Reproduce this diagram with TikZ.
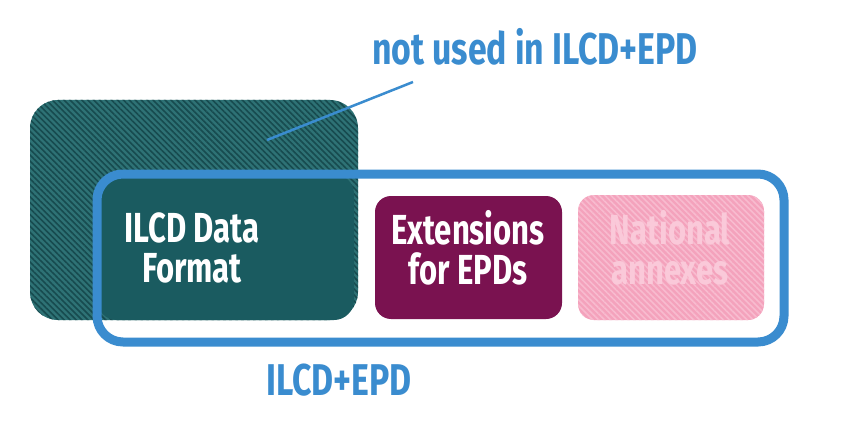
\documentclass[tikz,border=0pt]{standalone}
\usepackage{fontspec}
\newfontfamily\dinfont{Fira Sans}[FakeStretch=0.74]
\newfontfamily\dinwide{Fira Sans}[FakeStretch=0.76]
\usetikzlibrary{patterns.meta}
\definecolor{frameblue}{HTML}{3A8CCF}
\definecolor{tealdark}{HTML}{1A5B60}
\definecolor{tealhatchbg}{HTML}{2E7275}
\definecolor{tealhatchfg}{HTML}{174B4F}
\definecolor{plum}{HTML}{7A1250}
\definecolor{pinkbg}{HTML}{F4A2BC}
\definecolor{pinkfg}{HTML}{F8BBCF}
\definecolor{pinktext}{HTML}{FAC9D9}
\begin{document}
\begin{tikzpicture}[x=1pt,y=-1pt,
  boxbase/.style={draw=none, inner sep=0pt, outer sep=0pt},
  boxtxt/.style={font=\dinfont\bfseries\fontsize{42}{40}\selectfont, align=center, inner sep=0pt},
  bluetxt/.style={font=\dinwide\bfseries\fontsize{44.5}{44}\selectfont, text=frameblue, inner sep=0pt},
]
\useasboundingbox (0,0) rectangle (844,428);
\fill[white] (0,0) rectangle (844,428);
% box not used in ILCD+EPD
\node[boxbase, minimum width=328pt, minimum height=220pt, rounded corners=28pt,
  fill=tealhatchbg, postaction={pattern={Lines[angle=-45,distance=4.2pt,line width=1.6pt]}, pattern color=tealhatchfg}]
  (unused) at (194,210) {};
\node[boxbase, fill=tealdark, minimum width=257pt, minimum height=146pt, rounded corners=20pt]
  (ilcd) at (225.5,247) {};
% leader line
\coordinate (leadA) at (267,140);
\coordinate (leadB) at (413,82);
\draw[frameblue, line width=2.5pt] (leadA) -- (leadB);
% extension boxes
\node[boxbase, fill=plum, minimum width=187pt, minimum height=123pt, rounded corners=16pt]
  (ext) at (468.5,257.5) {};
\node[boxbase, minimum width=186pt, minimum height=125pt, rounded corners=16pt,
  fill=pinkbg, postaction={pattern={Lines[angle=-45,distance=4.2pt,line width=1.6pt]}, pattern color=pinkfg}]
  (nat) at (671,257.5) {};
% ILCD+EPD frame
\node[draw=frameblue, line width=9pt, inner sep=0pt, outer sep=0pt, minimum width=687pt, minimum height=168pt, rounded corners=26pt]
  (epd) at (440.5,258) {};
% texts
\node[boxtxt, text=white] (ilcdtxt) at (192,248) {ILCD Data\\Format};
\node[boxtxt, text=white] (exttxt) at (468,248) {Extensions\\for EPDs};
\node[boxtxt, text=pinktext] (nattxt) at (670,248) {National\\annexes};
\node[bluetxt, anchor=base] (unusedlbl) at (535,65) {not used in ILCD+EPD};
\node[bluetxt, anchor=base] (epdlbl) at (339,395) {ILCD+EPD};
\end{tikzpicture}
\end{document}
